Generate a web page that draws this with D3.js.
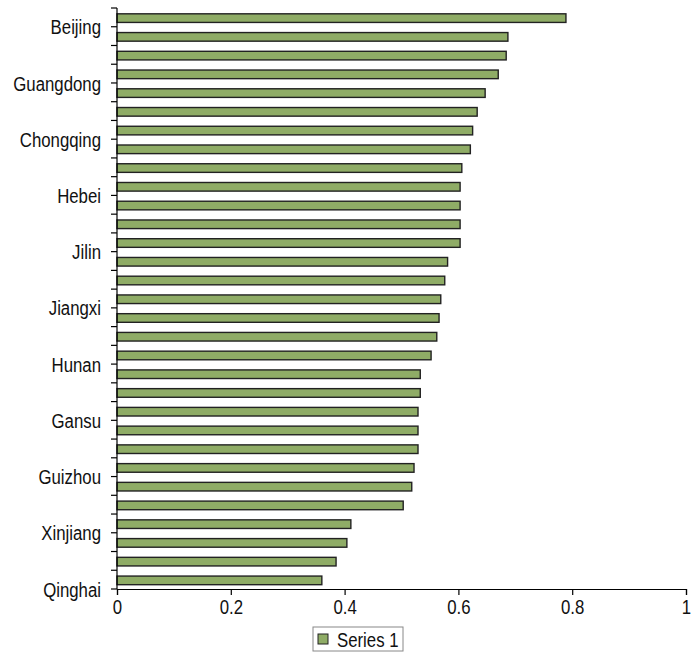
<!DOCTYPE html>
<html>
<head>
<meta charset="utf-8">
<script src="https://cdn.jsdelivr.net/npm/d3@7"></script>
<style>
  body { margin: 0; background: #fff; }
  svg { display: block; font-family: "Liberation Sans", Arial, sans-serif; }
</style>
</head>
<body>
<div class="chart"></div>
<script>
    // provinces, top to bottom (only every 3rd one gets a label)
    const provinces = ["Beijing", "Shanghai", "Tianjin", "Guangdong", "Zhejiang", "Jiangsu",
      "Chongqing", "Fujian", "Shandong", "Hebei", "Liaoning", "Inner Mongolia",
      "Jilin", "Heilongjiang", "Hubei", "Jiangxi", "Shanxi", "Shaanxi",
      "Hunan", "Anhui", "Henan", "Gansu", "Ningxia", "Sichuan",
      "Guizhou", "Guangxi", "Hainan", "Xinjiang", "Yunnan", "Tibet", "Qinghai"];
    const series1 = [0.789, 0.687, 0.684, 0.670, 0.647, 0.633,
      0.625, 0.621, 0.606, 0.603, 0.603, 0.603,
      0.603, 0.581, 0.576, 0.569, 0.566, 0.562,
      0.552, 0.533, 0.533, 0.529, 0.529, 0.529,
      0.522, 0.518, 0.503, 0.411, 0.404, 0.385, 0.360];
    const x_ticks = [0, 0.2, 0.4, 0.6, 0.8, 1];
    const label_every = 3;
    const legend_label = "Series 1";

    const chart_width = 695, chart_height = 653;
    const plot_left = 117, plot_right = 686, plot_top = 8, plot_bottom = 589;
    const narrow = 'scale(0.8,1)';   // condensed look for the labels
    const label_size = 21;

    const svg = d3.select('.chart').append('svg')
        .attr('width', chart_width).attr('height', chart_height);

    const x = d3.scaleLinear().domain([0, 1]).range([plot_left, plot_right]);
    const y = d3.scaleBand().domain(provinces).range([plot_top, plot_bottom]).padding(0);
    const bw = y.bandwidth();

    // bars
    svg.append('g').selectAll('rect')
        .data(provinces)
        .enter()
        .append('rect')
          .attr('x', x(0))
          .attr('y', d => y(d) + bw * 0.31)
          .attr('width', (d, i) => x(series1[i]) - x(0))
          .attr('height', bw * 0.46)
          .attr('fill', '#8fac66')
          .attr('stroke', '#222')
          .attr('stroke-width', 1.4);

    // y axis: line, ticks on band boundaries, labels on lower boundary of every 3rd band
    const g_y = svg.append('g');
    g_y.append('line')
        .attr('x1', plot_left).attr('x2', plot_left).attr('y1', plot_top).attr('y2', plot_bottom)
        .attr('stroke', '#000').attr('stroke-width', 1.2);
    const boundaries = provinces.map(d => y(d)).concat([plot_bottom]);
    g_y.selectAll('line.tick')
        .data(boundaries)
        .enter()
        .append('line')
          .attr('class', 'tick')
          .attr('x1', plot_left - 6).attr('x2', plot_left)
          .attr('y1', d => d).attr('y2', d => d)
          .attr('stroke', '#000').attr('stroke-width', 1.2);
    g_y.selectAll('text')
        .data(provinces.filter((d, i) => i % label_every === 0))
        .enter()
        .append('text')
          .attr('transform', d => 'translate(' + (plot_left - 16) + ',' + (y(d) + bw) + ') ' + narrow)
          .attr('dy', '0.36em')
          .attr('text-anchor', 'end')
          .attr('font-size', label_size)
          .attr('fill', '#111')
          .text(d => d);

    // x axis
    const x_axis = d3.axisBottom(x)
        .tickValues(x_ticks)
        .tickFormat(d => String(d))
        .tickSize(6)
        .tickPadding(4);
    const g_x = svg.append('g')
        .attr('transform', 'translate(0,' + plot_bottom + ')')
        .call(x_axis);
    g_x.attr('font-family', null).attr('font-size', null);
    g_x.select('.domain').attr('stroke', '#000').attr('stroke-width', 1.2);
    g_x.selectAll('.tick line').attr('stroke', '#000').attr('stroke-width', 1.2);
    g_x.selectAll('.tick text')
        .attr('transform', narrow)
        .attr('font-size', label_size)
        .attr('fill', '#111');

    // legend
    const g_leg = svg.append('g').attr('transform', 'translate(313,627)');
    g_leg.append('rect')
        .attr('x', 0).attr('y', 0).attr('width', 90).attr('height', 24)
        .attr('fill', '#fff').attr('stroke', '#888').attr('stroke-width', 1);
    g_leg.append('rect')
        .attr('x', 5).attr('y', 7).attr('width', 10).attr('height', 10)
        .attr('fill', '#8fac66').attr('stroke', '#222').attr('stroke-width', 1);
    g_leg.append('text')
        .attr('transform', 'translate(24,12) ' + narrow)
        .attr('dy', '0.36em')
        .attr('font-size', label_size)
        .attr('fill', '#111')
        .text(legend_label);
</script>
</body>
</html>
